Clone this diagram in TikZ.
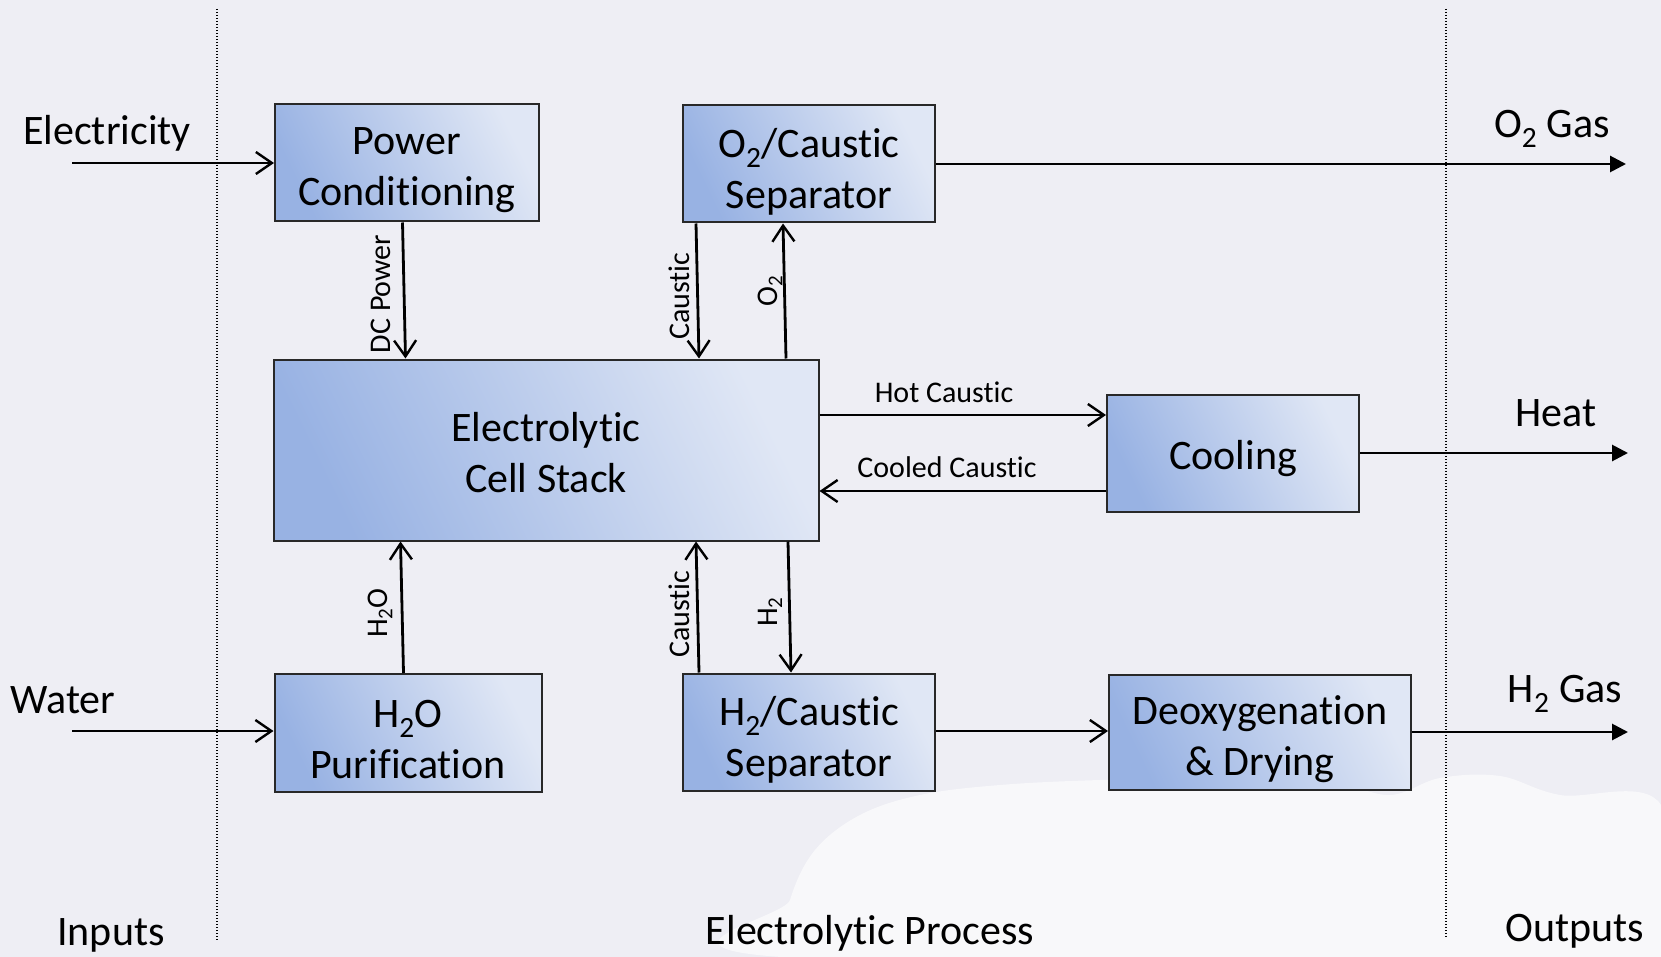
\documentclass[tikz,border=0pt]{standalone}
\usepackage{fontspec}
\setmainfont{Carlito}[Ligatures=NoCommon]
\usetikzlibrary{arrows.meta}
\definecolor{bgcol}{RGB}{238,238,244}
\definecolor{boxdark}{RGB}{152,178,227}
\definecolor{boxlight}{RGB}{224,231,245}
\definecolor{boxline}{RGB}{40,40,40}
\newcommand\bigtxt{\fontsize{42}{51}\selectfont}
\newcommand\smalltxt{\fontsize{30}{36}\selectfont}
\newcommand\subtwo{\textsubscript{2}}
\begin{document}
\begin{tikzpicture}[x=1pt,y=-1pt,
  procbox/.style={draw=boxline, line width=2pt, left color=boxdark, right color=boxlight,
    shading angle=116, inner sep=0pt},
  boxtext/.style={align=center, font=\bigtxt, inner sep=0pt},
  flow/.style={line width=2.8pt, -{Straight Barb[length=16pt,width=22pt,line width=2.4pt]}},
  outflow/.style={line width=2.8pt, -{Triangle[length=16pt,width=16pt]}},
  bigtext/.style={font=\bigtxt, inner sep=0pt},
  smalltext/.style={font=\smalltxt, inner sep=0pt},
  divider/.style={line width=1.2pt, dash pattern=on 1.3pt off 1.7pt}]
\useasboundingbox (0,0) rectangle (1661,957);
\fill[bgcol] (0,0) rectangle (1661,957);
% faint cloud
\fill[white, opacity=0.6] plot[smooth cycle, tension=0.6] coordinates {
  (782,957) (790,900) (815,850) (860,815) (920,795) (1000,785) (1100,780)
  (1220,778) (1330,782) (1390,795) (1440,778) (1500,776) (1560,795)
  (1661,805) (1661,957)};
% dividers
\coordinate (d1t) at (217,9);
\coordinate (d1b) at (217,940);
\coordinate (d2t) at (1446,9);
\coordinate (d2b) at (1446,938);
\draw[divider] (d1t) -- (d1b);
\draw[divider] (d2t) -- (d2b);
% boxes
\node[procbox, minimum width=264pt, minimum height=117pt] (pc) at (407,163) {};
\node[procbox, minimum width=252pt, minimum height=117pt] (o2s) at (809,164) {};
\node[procbox, minimum width=545pt, minimum height=181pt] (cell) at (546,450) {};
\node[procbox, minimum width=252pt, minimum height=117pt] (cool) at (1233,453) {};
\node[procbox, minimum width=267pt, minimum height=118pt] (h2op) at (408,733) {};
\node[procbox, minimum width=252pt, minimum height=117pt] (h2s) at (809,732) {};
\node[procbox, minimum width=302pt, minimum height=115pt] (deox) at (1260,732) {};
% box texts
\node[boxtext] (pct) at ([yshift=-7.5pt]pc.center) {Power\\Conditioning};
\node[boxtext] (o2st) at ([yshift=-7.5pt]o2s.center) {O\subtwo/Caustic\\Separator};
\node[boxtext] (cellt) at ([yshift=-2.5pt]cell.center) {Electrolytic\\Cell Stack};
\node[boxtext] (coolt) at ([yshift=-5.5pt]cool.center) {Cooling};
\node[boxtext] (h2opt) at ([yshift=-6.5pt]h2op.center) {H\subtwo O\\Purification};
\node[boxtext] (h2st) at ([yshift=-7.5pt]h2s.center) {H\subtwo/Caustic\\Separator};
\node[boxtext] (deoxt) at ([yshift=-7.5pt]deox.center) {Deoxygenation\\\& Drying};
% outer labels
\node[bigtext] (lelec) at (107,133) {Electricity};
\node[bigtext] (lwater) at (63,700) {Water};
\node[bigtext] (lo2) at (1552,129) {O\subtwo{} Gas};
\node[bigtext] (lheat) at (1556,413) {Heat};
\node[bigtext] (lh2) at (1565,694) {H\subtwo{} Gas};
\node[bigtext] (linputs) at (111,935) {Inputs};
\node[bigtext] (lproc) at (870,933) {Electrolytic Process};
\node[bigtext] (lout) at (1575,931) {Outputs};
% input arrows
\coordinate (ein) at (72,163);
\coordinate (win) at (72,731);
\draw[flow] (ein) -- (ein -| pc.west);
\draw[flow] (win) -- (win -| h2op.west);
% output arrows
\coordinate (o2out) at (1626,164);
\coordinate (heatout) at (1628,453);
\coordinate (h2out) at (1628,732);
\draw[outflow] (o2s.east |- o2out) -- (o2out);
\draw[outflow] (cool.east |- heatout) -- (heatout);
\draw[outflow] (deox.east |- h2out) -- (h2out);
% hot / cooled caustic
\coordinate (hc) at (0,415);
\coordinate (cc) at (0,491);
\draw[flow] (cell.east |- hc) -- (cool.west |- hc);
\draw[flow] (cool.west |- cc) -- (cell.east |- cc);
\node[smalltext] (lhot) at (944,392) {Hot Caustic};
\node[smalltext] (lcool) at (947,467) {Cooled Caustic};
% H2 separator to deoxygenation
\coordinate (hd) at (0,731);
\draw[flow] (h2s.east |- hd) -- (deox.west |- hd);
% vertical connectors
\coordinate (dcA) at (402.5,0); \coordinate (dcB) at (405.5,0);
\coordinate (ctA) at (696,0);   \coordinate (ctB) at (699,0);
\coordinate (oA) at (786,0);    \coordinate (oB) at (783,0);
\coordinate (hwA) at (403.5,0); \coordinate (hwB) at (400.5,0);
\coordinate (cbA) at (699,0);   \coordinate (cbB) at (696,0);
\coordinate (hA) at (788,0);    \coordinate (hB) at (791,0);
\draw[flow] (pc.south -| dcA) -- (cell.north -| dcB);
\draw[flow] (o2s.south -| ctA) -- (cell.north -| ctB);
\draw[flow] (cell.north -| oA) -- (o2s.south -| oB);
\draw[flow] (h2op.north -| hwA) -- (cell.south -| hwB);
\draw[flow] (h2s.north -| cbA) -- (cell.south -| cbB);
\draw[flow] (cell.south -| hA) -- (h2s.north -| hB);
% rotated labels
\node[smalltext, rotate=90] (ldc) at (381,294) {DC Power};
\node[smalltext, rotate=90] (lct) at (679,296) {Caustic};
\node[smalltext, rotate=90] (lo2v) at (770,291) {O\subtwo};
\node[smalltext, rotate=90] (lh2o) at (380,613) {H\subtwo O};
\node[smalltext, rotate=90] (lcb) at (679,614) {Caustic};
\node[smalltext, rotate=90] (lh2v) at (770,612) {H\subtwo};
\end{tikzpicture}
\end{document}
